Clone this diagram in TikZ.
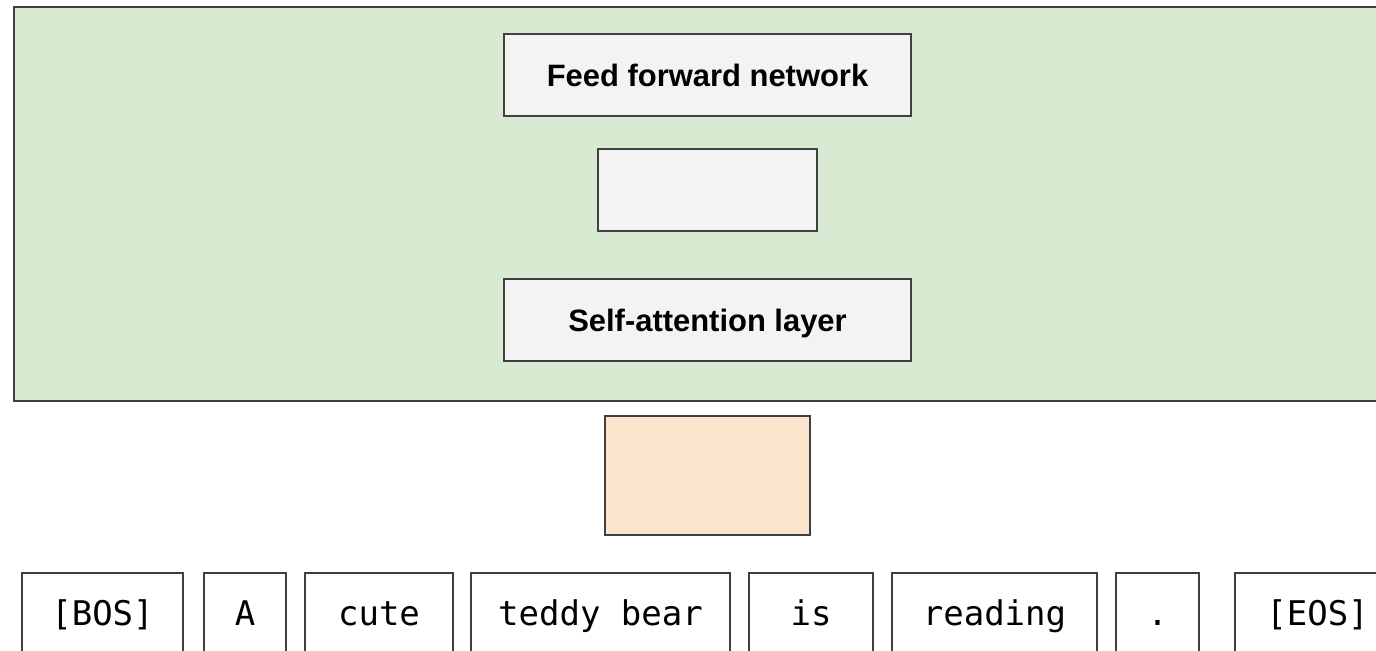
\documentclass[tikz,border=0pt]{standalone}
\usepackage{fontspec}
\setmainfont{Liberation Sans}
\newfontfamily\tokfont{DejaVu Sans Mono}
\definecolor{blockgreen}{HTML}{D9EAD3}
\definecolor{layergray}{HTML}{F3F3F3}
\definecolor{embpeach}{HTML}{FCE5CD}
\definecolor{edgegray}{HTML}{404040}
\begin{document}
\begin{tikzpicture}[x=0.75pt,y=-0.75pt,
  boxbase/.style={draw=edgegray,line width=1.4pt,rectangle,inner sep=0pt,outer sep=0pt},
  layer/.style={boxbase,fill=layergray,text height=17pt,text depth=0pt,
    font=\fontsize{23.2}{27}\selectfont\bfseries,text=black},
  token/.style={boxbase,fill=white,minimum height=82*0.75pt,text height=20pt,text depth=3pt,
    font=\tokfont\fontsize{25.5}{30}\selectfont,text=black}]
\useasboundingbox (0,0) rectangle (1376,650);
\clip (0,0) rectangle (1376,650);
% transformer block background
\node[boxbase,fill=blockgreen,minimum width=1376*0.75pt,minimum height=394*0.75pt] (block) at (702,204) {};
% layers inside the block
\node[layer,minimum width=407*0.75pt,minimum height=82*0.75pt] (ffn) at (707.5,75) {Feed forward network};
\node[layer,minimum width=219*0.75pt,minimum height=82*0.75pt] (mid) at (707.5,190) {};
\node[layer,minimum width=407*0.75pt,minimum height=82*0.75pt] (sa) at (707.5,320) {Self-attention layer};
% embedding box
\node[boxbase,fill=embpeach,minimum width=205*0.75pt,minimum height=119*0.75pt] (emb) at (707.5,475.5) {};
% input tokens
\node[token,minimum width=161*0.75pt] (t1) at (102.5,614) {[BOS]};
\node[token,minimum width=82*0.75pt] (t2) at (245,614) {A};
\node[token,minimum width=148*0.75pt] (t3) at (379,614) {cute};
\node[token,minimum width=259*0.75pt] (t4) at (600.5,614) {teddy bear};
\node[token,minimum width=124*0.75pt] (t5) at (811,614) {is};
\node[token,minimum width=205*0.75pt] (t6) at (994.5,614) {reading};
\node[token,minimum width=83*0.75pt] (t7) at (1157.5,614) {.};
\node[token,minimum width=165*0.75pt] (t8) at (1317.5,614) {[EOS]};
\end{tikzpicture}
\end{document}
